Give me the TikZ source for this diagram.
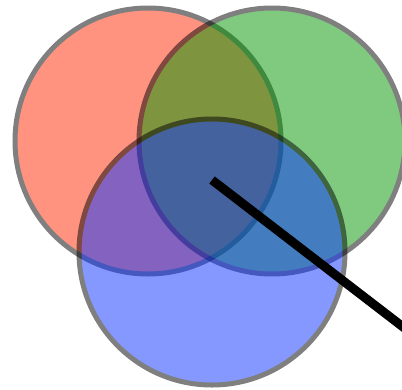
\documentclass[tikz,border=0pt]{standalone}
\usetikzlibrary{positioning}
\definecolor{setA}{RGB}{255,40,0}
\definecolor{setB}{RGB}{0,150,0}
\definecolor{setC}{RGB}{10,50,255}
\tikzset{
  every picture/.style={x=1pt, y=-1pt, line join=round},
  % Mengen: Fläche und Rand zusammen halbtransparent
  venn/.style={fill=#1, draw=black, line width=5pt},
  venn/.default=setA,
  faded/.style={transparency group, opacity=0.5},
  % Zeiger
  ray/.style={black, line width=9pt, line cap=butt},
}
\begin{document}
\begin{tikzpicture}
  \useasboundingbox (0,0) rectangle (402,389);
  \coordinate (A) at (148,141);
  \coordinate (B) at (272,141);
  \coordinate (C) at (212,252);
  % drei Kreise
  \begin{scope}[faded]
    \draw[venn=setA] (A) circle (133);
  \end{scope}
  \begin{scope}[faded]
    \draw[venn=setB] (B) circle (133);
  \end{scope}
  \begin{scope}[faded]
    \draw[venn=setC] (C) circle (133);
  \end{scope}
  % Linie nach rechts unten
  \coordinate (M) at (212,180);
  \coordinate (E) at (420,340);
  \begin{scope}
    \clip (0,0) rectangle (402,389);
    \draw[ray] (M) -- (E);
  \end{scope}
\end{tikzpicture}
\end{document}
